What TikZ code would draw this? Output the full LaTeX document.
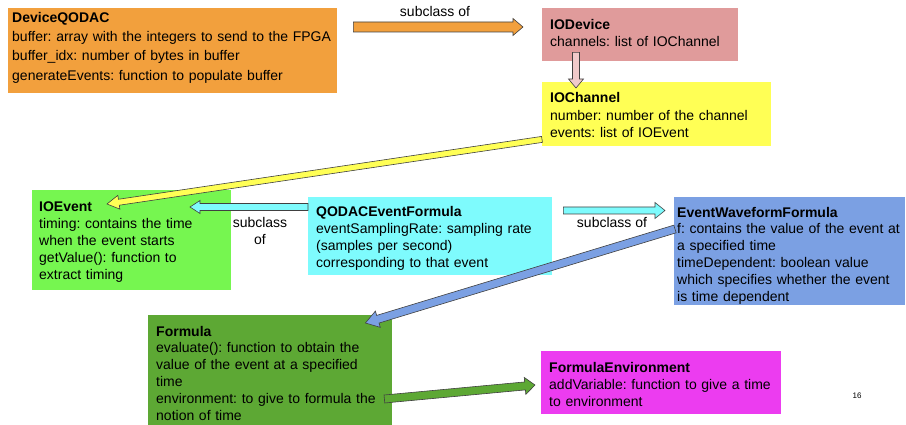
\documentclass[tikz,border=0pt]{standalone}
\usepackage{fontspec}
\setmainfont{Liberation Sans}
\AtBeginDocument{\frenchspacing}
\usepackage{xcolor}
\definecolor{colorDevice}{RGB}{242,160,61}
\definecolor{colorIODevice}{RGB}{224,155,155}
\definecolor{colorIODeviceArrow}{RGB}{240,202,202}
\definecolor{colorChannel}{RGB}{255,255,85}
\definecolor{colorEvent}{RGB}{118,246,80}
\definecolor{colorQodacFormula}{RGB}{126,251,253}
\definecolor{colorWaveform}{RGB}{123,160,227}
\definecolor{colorFormula}{RGB}{93,168,52}
\definecolor{colorEnvironment}{RGB}{236,60,240}
\colorlet{colorOutline}{black!75}
\usepackage{tikz}
\usetikzlibrary{calc}
\tikzset{
  classbox/.style={anchor=north west, inner ysep=0pt, align=left, font=\fontsize{14}{17}\selectfont},
  arrowlbl/.style={inner sep=0pt, align=center, font=\fontsize{14}{17}\selectfont},
  blockline/.style={draw=colorOutline, line width=0.6pt, line join=miter},
}
% block arrow: fill, tail, tip, half shaft, half head, head length
\newcommand{\blockarrow}[6]{%
  \coordinate (bah) at ($(#3)!#6!(#2)$);
  \draw[blockline, fill=#1] ($(#2)!#4!90:(#3)$) -- ($(bah)!#4!90:(#3)$) -- ($(bah)!#5!90:(#3)$) -- (#3) -- ($(bah)!#5!-90:(#3)$) -- ($(bah)!#4!-90:(#3)$) -- ($(#2)!#4!-90:(#3)$) -- cycle;
}

\begin{document}
\begin{tikzpicture}[x=1pt, y=-1pt]
\useasboundingbox (0,0) rectangle (906,425);
% classes
\node[classbox, fill=colorDevice, inner xsep=4pt, text width=321pt, text height=14pt, text depth=71pt, font=\fontsize{14}{19.3}\selectfont] (devqodac) at (8,8) {\textbf{DeviceQODAC}\\buffer: array with the integers to send to the FPGA\\buffer\_idx: number of bytes in buffer\\generateEvents: function to populate buffer};
\node[classbox, fill=colorIODevice, inner xsep=8pt, text width=180pt, text height=21.5pt, text depth=31.5pt] (iodevice) at (542,8) {\textbf{IODevice}\\channels: list of IOChannel};
\node[classbox, fill=colorChannel, inner xsep=8pt, text width=213pt, text height=20.5pt, text depth=43.5pt, font=\fontsize{14}{17.5}\selectfont] (iochannel) at (542,82) {\textbf{IOChannel}\\number: number of the channel\\events: list of IOEvent};
\node[classbox, fill=colorEvent, inner xsep=7pt, text width=185pt, text height=21pt, text depth=79pt] (ioevent) at (32,190) {\textbf{IOEvent}\\timing: contains the time\\when the event starts\\getValue(): function to\\extract timing};
\node[classbox, fill=colorQodacFormula, inner xsep=8pt, text width=228pt, text height=19.5pt, text depth=58.5pt] (qodac) at (308,197) {\textbf{QODACEventFormula}\\eventSamplingRate: sampling rate\\(samples per second)\\corresponding to that event};
\node[classbox, fill=colorWaveform, inner xsep=3pt, text width=225pt, text height=20pt, text depth=88pt, font=\fontsize{14}{16.8}\selectfont] (ewf) at (674,197) {\textbf{EventWaveformFormula}\\f: contains the value of the event at\\a specified time\\timeDependent: boolean value\\which specifies whether the event\\is time dependent};
\node[classbox, fill=colorFormula, inner xsep=8pt, text width=228pt, text height=21pt, text depth=89pt, font=\fontsize{14}{16.8}\selectfont] (formula) at (148,315) {\textbf{Formula}\\evaluate(): function to obtain the\\value of the event at a specified\\time\\environment: to give to formula the\\notion of time};
\node[classbox, fill=colorEnvironment, inner xsep=8pt, text width=224pt, text height=21pt, text depth=42pt] (fenv) at (541,351) {\textbf{FormulaEnvironment}\\addVariable: function to give a time\\to environment};
% arrow ends
\coordinate (devTail) at ([xshift=16pt, yshift=-19pt]devqodac.north east);
\coordinate (devTip) at ([xshift=-19pt, yshift=-19pt]iodevice.north west);
\coordinate (chanTail) at ([xshift=34pt, yshift=9pt]iodevice.south west);
\coordinate (chanTip) at ([xshift=34pt, yshift=-6pt]iochannel.north west);
\coordinate (evtTail) at ([yshift=7pt]iochannel.south west);
\coordinate (evtTip) at ([xshift=75pt, yshift=-14pt]ioevent.north west);
\coordinate (qodacTail) at ([yshift=-10pt]qodac.north west);
\coordinate (qodacTip) at ([xshift=158pt, yshift=-17pt]ioevent.north west);
\coordinate (wfTail) at ([xshift=11pt, yshift=-13.5pt]qodac.north east);
\coordinate (wfTip) at ([xshift=-9pt, yshift=-13.5pt]ewf.north west);
\coordinate (fmlTail) at ([xshift=1pt, yshift=-32pt]ewf.north west);
\coordinate (fmlTip) at ([xshift=-27pt, yshift=-8pt]formula.north east);
\coordinate (envTail) at ([xshift=-8pt, yshift=-84pt]formula.north east);
\coordinate (envTip) at ([xshift=-6pt, yshift=-34pt]fenv.north west);
% arrows
\blockarrow{colorDevice}{devTail}{devTip}{5pt}{8.5pt}{10pt}
\blockarrow{colorIODeviceArrow}{chanTail}{chanTip}{3.5pt}{7.5pt}{9pt}
\blockarrow{colorChannel}{evtTail}{evtTip}{3pt}{7pt}{12pt}
\blockarrow{colorQodacFormula}{qodacTail}{qodacTip}{3.5pt}{6.5pt}{10pt}
\blockarrow{colorQodacFormula}{wfTail}{wfTip}{3.5pt}{8pt}{10pt}
\blockarrow{colorWaveform}{fmlTail}{fmlTip}{4pt}{8.5pt}{13pt}
\blockarrow{colorFormula}{envTail}{envTip}{4pt}{8.5pt}{10pt}
% labels
\node[arrowlbl, anchor=base] (lblDev) at (435,17) {subclass of};
\node[arrowlbl, anchor=north] (lblEvt) at (260,217.5) {subclass\\of};
\node[arrowlbl, anchor=base] (lblWf) at (612,228) {subclass of};
\node[font=\fontsize{8}{10}\selectfont, inner sep=0pt] (pagenum) at (857,396) {16};
\end{tikzpicture}
\end{document}
